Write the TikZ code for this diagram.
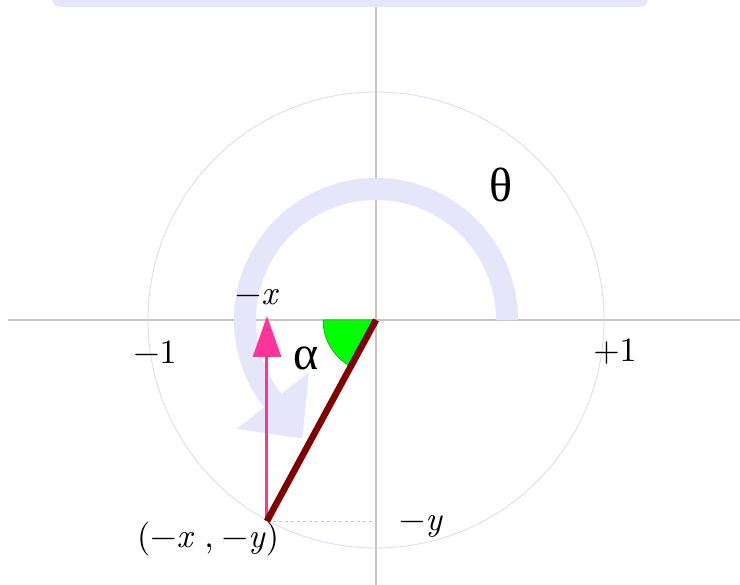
\documentclass[tikz,border=0pt]{standalone}
\usepackage{fontspec}
\setmainfont{lmroman10-regular.otf}[ItalicFont=lmroman10-italic.otf]
\newfontfamily\greekfont{Liberation Serif}
\usetikzlibrary{arrows.meta,calc}
\definecolor{lav}{HTML}{E6E6FA}
\definecolor{circcol}{HTML}{DCDCF8}
\definecolor{axiscol}{HTML}{C4C4C4}
\definecolor{pinkcol}{HTML}{FF3399}
\definecolor{maroon}{HTML}{800000}
\definecolor{wedgefill}{HTML}{00FF00}
\definecolor{wedgeline}{HTML}{009900}
\definecolor{dashcol}{HTML}{C8C8C8}
\begin{document}
\begin{tikzpicture}[x=1pt,y=1pt,
  axisline/.style={draw=axiscol, line width=1.2pt},
  unitcirc/.style={draw=circcol, line width=0.9pt},
  bigarc/.style={draw=lav, line width=22pt},
  lbl/.style={inner sep=0pt, font=\fontsize{34}{40}\selectfont},
  greeklbl/.style={inner sep=0pt, font=\greekfont\fontsize{48}{56}\selectfont}]
\useasboundingbox (-376,-265) rectangle (364,320);
% top bar
\fill[lav, rounded corners=8pt] (-324,313) rectangle (272,345);
% axes
\coordinate (O) at (0,0);
\coordinate (XL) at (-368,0);
\coordinate (XR) at (364,0);
\coordinate (YT) at (0,313);
\coordinate (YB) at (0,-265);
\draw[axisline] (XL) -- (XR);
\draw[axisline] (YT) -- (YB);
% unit circle
\draw[unitcirc] (O) circle (228pt);
% big theta arc with arrow head
\draw[bigarc] (0:131) arc (0:218:131pt);
\coordinate (B) at (218:131);
\fill[lav] ($(B)+(218:46)$) -- ($(B)+(308:48)$) -- ($(B)+(38:46)$) -- cycle;
% points
\coordinate (P) at (-109,-201);
\coordinate (Ptop) at (-109,4);
\coordinate (Py) at (0,-201);
% alpha wedge
\filldraw[fill=wedgefill, draw=wedgeline, line width=0.5pt] (O) -- (180:53) arc (180:241.5:53pt) -- cycle;
% dashed projection
\draw[dashcol, dashed, dash pattern=on 3pt off 3pt, line width=0.8pt] (P) -- (Py);
% pink arrow
\draw[pinkcol, line width=3pt, -{Triangle[width=28pt,length=41pt]}] (P) -- (Ptop);
% radius line
\draw[maroon, line width=6.5pt] (O) -- (P);
% labels
\node[greeklbl] (theta) at (125,135) {θ};
\node[greeklbl] (alpha) at (-70,-38) {α};
\node[lbl] (m1) at (-221,-32) {−1};
\node[lbl] (p1) at (239,-32) {+1};
\node[lbl, anchor=base] (mx) at (-119,15) {−\textit{x}};
\node[lbl, anchor=base] (my) at (45,-211) {−\textit{y}};
\node[lbl, anchor=base] (pt) at (-168,-228) {(−\textit{x}\hspace{10pt},\hspace{8pt}−\textit{y})};
\end{tikzpicture}
\end{document}
